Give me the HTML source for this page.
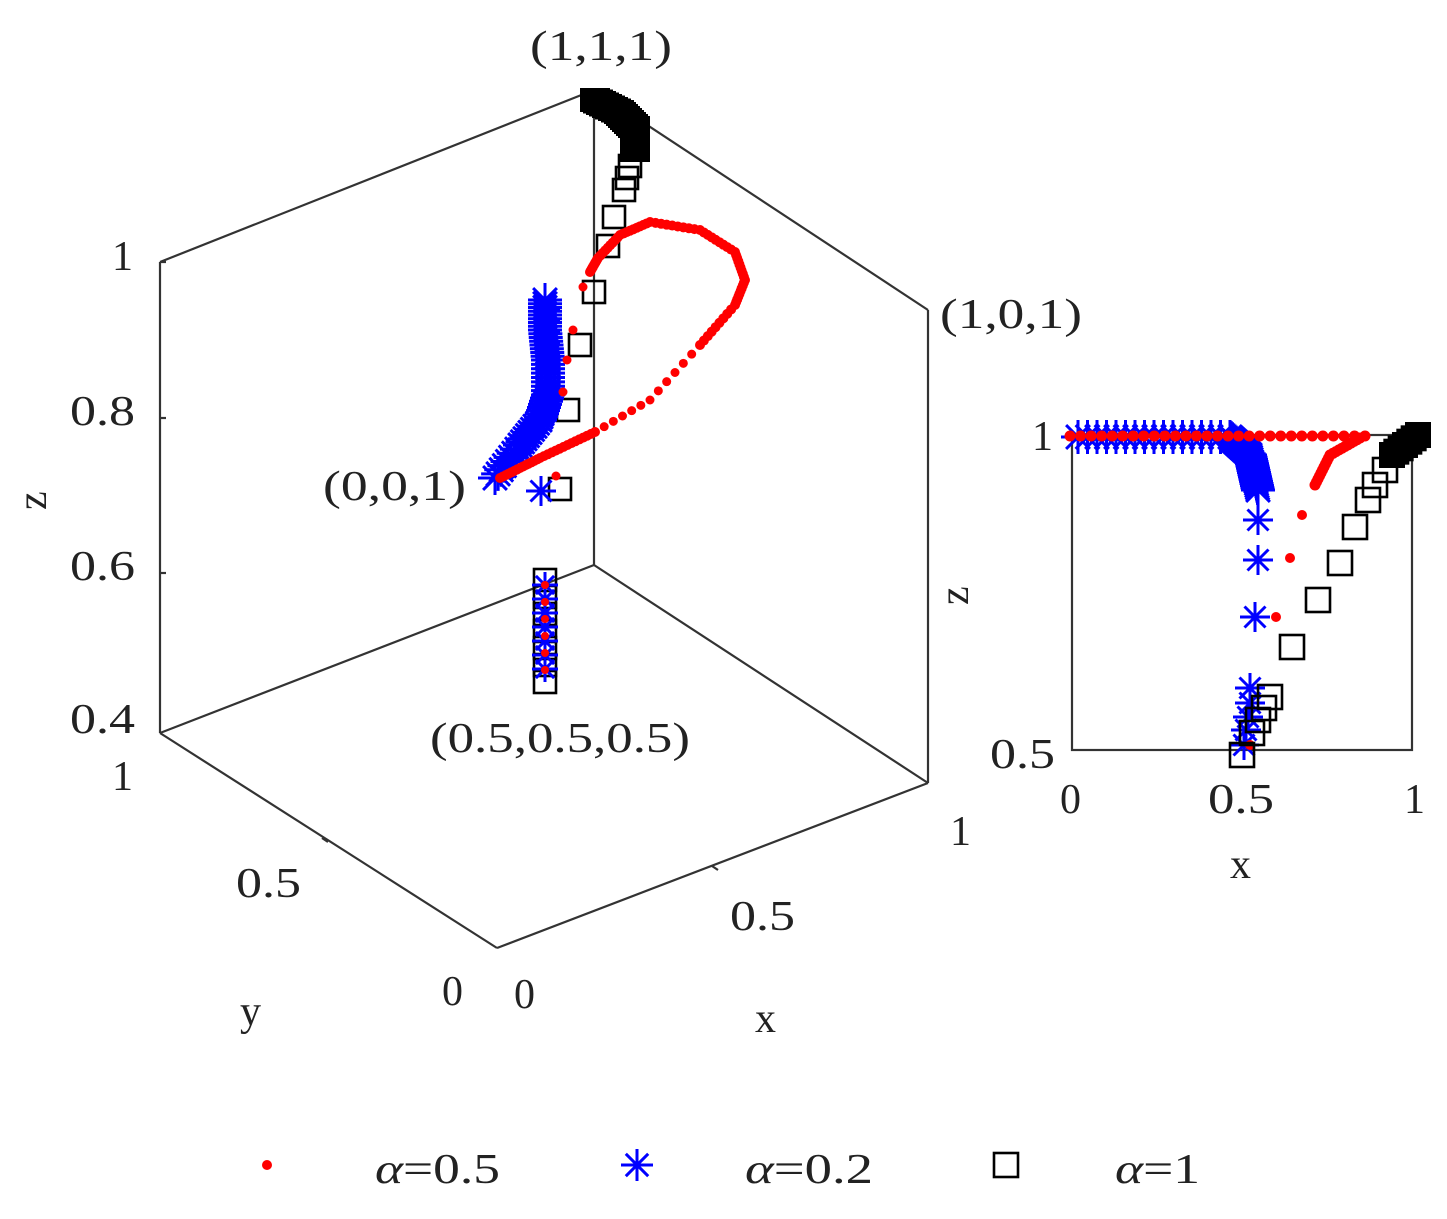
<!DOCTYPE html>
<html><head><meta charset="utf-8"><style>
body{margin:0;background:#fff;}
svg text{font-family:"Liberation Serif",serif;fill:#222;}
</style></head><body>
<svg id="s" width="1447" height="1214" viewBox="0 0 1447 1214" xmlns="http://www.w3.org/2000/svg">
<g stroke="#333" stroke-width="2.2" fill="none">
<line x1="160" y1="262" x2="594" y2="90"/>
<line x1="594" y1="90" x2="928" y2="310"/>
<line x1="160" y1="262" x2="160" y2="733"/>
<line x1="928" y1="310" x2="928" y2="783"/>
<line x1="594" y1="90" x2="594" y2="565"/>
<line x1="594" y1="565" x2="160" y2="733"/>
<line x1="594" y1="565" x2="928" y2="783"/>
<line x1="160" y1="733" x2="497" y2="948"/>
<line x1="497" y1="948" x2="928" y2="783"/>
<line x1="160" y1="418" x2="166" y2="418"/>
<line x1="160" y1="573" x2="166" y2="573"/>
<line x1="160" y1="262" x2="166" y2="262"/>
<line x1="322" y1="838" x2="328" y2="842"/>
<line x1="712" y1="866" x2="718" y2="870"/>
<rect x="1072" y="435" width="340" height="315"/>
</g>
<g font-size="42" lengthAdjust="spacingAndGlyphs">
<text x="112" y="270">1</text>
<text x="70" y="425" textLength="65" lengthAdjust="spacingAndGlyphs">0.8</text>
<text x="70" y="580" textLength="65" lengthAdjust="spacingAndGlyphs">0.6</text>
<text x="70" y="733" textLength="65" lengthAdjust="spacingAndGlyphs">0.4</text>
<text x="112" y="790">1</text>
<text x="236" y="897" textLength="65" lengthAdjust="spacingAndGlyphs">0.5</text>
<text x="442" y="1005">0</text>
<text x="514" y="1008">0</text>
<text x="730" y="930" textLength="65" lengthAdjust="spacingAndGlyphs">0.5</text>
<text x="950" y="845">1</text>
<text x="240" y="1025">y</text>
<text x="755" y="1032">x</text>
<text x="46" y="510" transform="rotate(-90 46 510)">z</text>
<text x="530" y="60" textLength="142" lengthAdjust="spacingAndGlyphs">(1,1,1)</text>
<text x="940" y="328" textLength="142" lengthAdjust="spacingAndGlyphs">(1,0,1)</text>
<text x="323" y="500" textLength="143" lengthAdjust="spacingAndGlyphs">(0,0,1)</text>
<text x="430" y="752" textLength="260" lengthAdjust="spacingAndGlyphs">(0.5,0.5,0.5)</text>
<text x="1032" y="450">1</text>
<text x="990" y="768" textLength="65" lengthAdjust="spacingAndGlyphs">0.5</text>
<text x="1060" y="813">0</text>
<text x="1208" y="813" textLength="66" lengthAdjust="spacingAndGlyphs">0.5</text>
<text x="1404" y="813">1</text>
<text x="1230" y="878">x</text>
<text x="968" y="605" transform="rotate(-90 968 605)">z</text>
<text x="375" y="1183" textLength="125" lengthAdjust="spacingAndGlyphs"><tspan font-style="italic">α</tspan>=0.5</text>
<text x="745" y="1183" textLength="128" lengthAdjust="spacingAndGlyphs"><tspan font-style="italic">α</tspan>=0.2</text>
<text x="1115" y="1183" textLength="85" lengthAdjust="spacingAndGlyphs"><tspan font-style="italic">α</tspan>=1</text>
</g>
<g id="m"></g>
</svg>
<script>
var g=document.getElementById('m'),h='';
function sq(x,y,s){s=s||22;h+='<rect x="'+(x-s/2)+'" y="'+(y-s/2)+'" width="'+s+'" height="'+s+'" fill="none" stroke="#000" stroke-width="2.6"/>';}
function st(x,y,r){r=r||14;var d=r*0.7;h+='<path d="M'+(x-r)+' '+y+'h'+2*r+'M'+x+' '+(y-r)+'v'+2*r+'M'+(x-d)+' '+(y-d)+'l'+2*d+' '+2*d+'M'+(x-d)+' '+(y+d)+'l'+2*d+' '+(-2*d)+'" stroke="#0000ff" stroke-width="3" fill="none"/>';}
function dt(x,y,r){h+='<circle cx="'+x+'" cy="'+y+'" r="'+(r||4.5)+'" fill="#f00"/>';}
function path(pts,n,f){for(var i=0;i<pts.length-1;i++){var a=pts[i],b=pts[i+1];for(var k=0;k<n;k++){var t=k/n;f(a[0]+(b[0]-a[0])*t,a[1]+(b[1]-a[1])*t);}}var l=pts[pts.length-1];f(l[0],l[1]);}
// 3D squares
for(var y=580;y<=682;y+=17)sq(545,y);
[[560,489],[568,410],[580,345],[594,292],[608,246],[614,217],[624,190],[627,178],[630,166]].forEach(function(p){sq(p[0],p[1]);});
path([[596,100],[620,112],[636,128],[636,150]],8,function(x,y){h+='<rect x="'+(x-16)+'" y="'+(y-12)+'" width="30" height="24" fill="#000"/>';});
// 3D stars
path([[545,300],[545,330],[548,360],[548,395],[540,420],[520,445],[495,478]],8,function(x,y){st(x,y,17);});
path([[548,310],[548,400],[535,430],[505,470]],8,function(x,y){st(x,y,12);});
st(541,491,15);
for(var y=585;y<=682;y+=14)st(545,y,13);
// 3D red
path([[500,478],[540,458],[595,432]],14,function(x,y){dt(x,y,5);});
path([[595,432],[650,400],[700,345]],6,function(x,y){dt(x,y,4.5);});
path([[700,345],[735,305],[745,280],[735,252],[700,230],[650,222],[620,235],[598,258],[590,272]],9,function(x,y){dt(x,y,5);});
[[583,287],[573,330],[567,360],[563,392],[556,476]].forEach(function(p){dt(p[0],p[1]);});
for(var y=585;y<=682;y+=17)dt(545,y,4);
// right subplot
path([[1078,437],[1230,437],[1250,455],[1258,490]],16,function(x,y){st(x,y,17);});
[[1258,520],[1258,560],[1255,617],[1250,688],[1250,703],[1248,717],[1246,730],[1244,745]].forEach(function(p){st(p[0],p[1],15);});
path([[1070,436],[1365,436]],28,function(x,y){dt(x,y,5.5);});
path([[1360,438],[1330,455],[1315,485]],10,function(x,y){dt(x,y,5.5);});
[[1302,515],[1290,558],[1276,617],[1250,745]].forEach(function(p){dt(p[0],p[1],5);});
path([[1392,455],[1418,435]],6,function(x,y){h+='<rect x="'+(x-13)+'" y="'+(y-13)+'" width="26" height="26" fill="#000"/>';});
[[1385,470],[1375,485],[1368,500],[1355,527],[1340,563],[1318,600],[1292,647],[1270,697],[1264,708],[1258,720],[1252,733],[1242,755]].forEach(function(p){sq(p[0],p[1],24);});
// legend
dt(267,1165,5);st(637,1165,16);sq(1006,1165,24);
g.innerHTML=h;
</script>
</body></html>
